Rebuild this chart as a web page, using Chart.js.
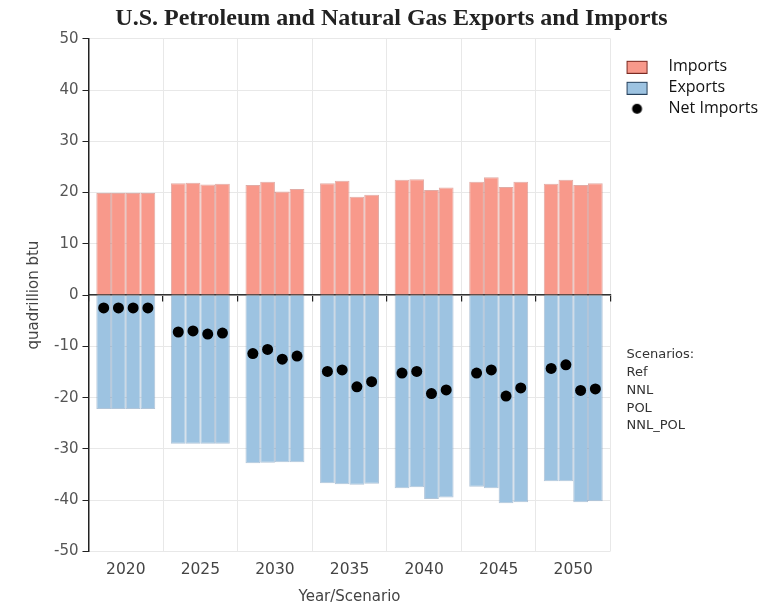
<!DOCTYPE html>
<html><head><meta charset="utf-8">
<script src="https://cdn.jsdelivr.net/npm/chart.js@4.4.1/dist/chart.umd.min.js"></script>
<style>html,body{margin:0;padding:0;background:#fff}#wrap{width:768px;height:614px;position:relative}</style>
</head><body><div id="wrap"><canvas id="c"></canvas></div>
<script>
const years = ['2020','2025','2030','2035','2040','2045','2050'];
const scenarios = ['Ref','NNL','POL','NNL_POL'];
const importsRef    = [19.9, 21.8, 21.5, 21.8, 22.5, 22.1, 21.7];
const importsNNL    = [19.9, 21.9, 22.1, 22.3, 22.6, 23.0, 22.5];
const importsPOL    = [19.9, 21.6, 20.2, 19.2, 20.5, 21.1, 21.5];
const importsNNLPOL = [19.9, 21.7, 20.7, 19.6, 21.0, 22.1, 21.8];
const exportsRef    = [-22.2, -29.0, -32.8, -36.7, -37.7, -37.4, -36.3];
const exportsNNL    = [-22.2, -29.0, -32.7, -36.9, -37.5, -37.7, -36.3];
const exportsPOL    = [-22.2, -29.0, -32.6, -37.0, -39.8, -40.6, -40.4];
const exportsNNLPOL = [-22.2, -29.0, -32.6, -36.8, -39.5, -40.4, -40.2];
const netRef    = [-2.5, -7.2, -11.4, -14.9, -15.2, -15.2, -14.3];
const netNNL    = [-2.5, -7.0, -10.6, -14.6, -14.9, -14.6, -13.6];
const netPOL    = [-2.5, -7.6, -12.5, -17.9, -19.2, -19.7, -18.6];
const netNNLPOL = [-2.5, -7.4, -11.9, -16.9, -18.5, -18.1, -18.3];
const yTicks = [50, 40, 30, 20, 10, 0, -10, -20, -30, -40, -50];
const seriesNames = ['Imports', 'Exports', 'Net Imports'];

const importsAll = [importsRef, importsNNL, importsPOL, importsNNLPOL];
const exportsAll = [exportsRef, exportsNNL, exportsPOL, exportsNNLPOL];
const netAll = [netRef, netNNL, netPOL, netNNLPOL];

const IMP = '#f8998b', IMP_B = 'rgba(205,115,105,0.6)';
const EXP = '#9dc3e1', EXP_B = 'rgba(100,140,180,0.5)';
const AXIS_FONT = 'DejaVu Sans';
const ICON_W = 45;

function legendIcon(kind) {
  const c = document.createElement('canvas');
  c.width = ICON_W; c.height = 14;
  const g = c.getContext('2d');
  if (kind === 'dot') {
    g.fillStyle = '#000';
    g.beginPath(); g.arc(21.5, 7, 5, 0, Math.PI * 2); g.fill();
  } else {
    g.fillStyle = kind === 'imp' ? IMP : EXP;
    g.fillRect(11.5, 1.5, 20, 12);
    g.strokeStyle = kind === 'imp' ? '#7a2a22' : '#27415c';
    g.lineWidth = 1;
    g.strokeRect(11.5, 1.5, 20, 12);
  }
  return c;
}
const icons = [legendIcon('imp'), legendIcon('exp'), legendIcon('dot')];

const datasets = [];
scenarios.forEach((s, j) => datasets.push({
  type: 'bar', label: seriesNames[0] + ' ' + s, data: importsAll[j], stack: s,
  backgroundColor: IMP, borderColor: IMP_B, borderWidth: 1, order: 2
}));
scenarios.forEach((s, j) => datasets.push({
  type: 'bar', label: seriesNames[1] + ' ' + s, data: exportsAll[j], stack: s,
  backgroundColor: EXP, borderColor: EXP_B, borderWidth: 1, order: 2
}));
scenarios.forEach((s, j) => datasets.push({
  type: 'line', label: seriesNames[2] + ' ' + s, data: netAll[j], stack: 'net_' + s,
  showLine: false, pointRadius: 5.5, pointHoverRadius: 5.5, pointBackgroundColor: '#000',
  pointBorderWidth: 0, borderColor: '#000', order: 0
}));

// place each net-import point on the bar of its scenario
const alignPoints = {
  id: 'alignPoints',
  afterDatasetsUpdate(chart) {
    scenarios.forEach((s, j) => {
      const barMeta = chart.getDatasetMeta(j);
      const ptMeta = chart.getDatasetMeta(8 + j);
      ptMeta.data.forEach((pt, i) => { if (barMeta.data[i]) pt.x = barMeta.data[i].x; });
    });
  }
};

const scenarioNote = {
  id: 'scenarioNote',
  afterDraw(chart) {
    const {ctx, chartArea} = chart;
    const lines = ['Scenarios:'].concat(scenarios);
    ctx.save();
    ctx.font = '13px "' + AXIS_FONT + '"';
    ctx.fillStyle = '#333';
    ctx.textAlign = 'left';
    ctx.textBaseline = 'middle';
    lines.forEach((t, k) => ctx.fillText(t, chartArea.right + 16, chartArea.top + 316 + k * 17.8));
    ctx.restore();
  }
};

new Chart(document.getElementById('c'), {
  type: 'bar',
  data: { labels: years, datasets },
  plugins: [alignPoints, scenarioNote],
  options: {
    responsive: true, maintainAspectRatio: false, animation: false,
    layout: { padding: { left: 15, right: 0, top: 0, bottom: 8 } },
    datasets: { bar: { categoryPercentage: 0.79, barPercentage: 1.0 } },
    plugins: {
      title: {
        display: true, text: 'U.S. Petroleum and Natural Gas Exports and Imports',
        font: { family: 'Liberation Serif', size: 24, weight: 'bold' }, color: '#222',
        padding: { top: 4, bottom: 6 }
      },
      legend: {
        position: 'right', align: 'start', fullSize: false,
        title: { display: true, text: ' ', font: { size: 10 }, padding: { top: 3, bottom: 0 } },
        labels: {
          usePointStyle: true, pointStyleWidth: ICON_W, padding: 5,
          font: { family: 'Open Sans', size: 16 }, color: '#111',
          generateLabels: () => seriesNames.map((n, k) => ({
            text: n, pointStyle: icons[k], fillStyle: '#000', strokeStyle: '#000',
            fontColor: '#111', lineWidth: 0, hidden: false, datasetIndex: k * 4
          }))
        },
        onClick: () => {}
      },
      tooltip: { enabled: false }
    },
    scales: {
      x: {
        stacked: true,
        grid: { color: '#e8e8e8', drawTicks: false, offset: true },
        border: { display: false },
        ticks: { color: '#444', font: { family: AXIS_FONT, size: 15.5 }, padding: 9 },
        title: { display: true, text: 'Year/Scenario', color: '#444',
          font: { family: AXIS_FONT, size: 15 }, padding: { top: 0, bottom: 0 } }
      },
      x2: {
        type: 'category', axis: 'x', position: { y: 0 }, offset: true, z: 1,
        grid: { drawOnChartArea: false, drawTicks: true, tickLength: 6, color: '#222', offset: true, lineWidth: 1.2 },
        border: { display: true, color: '#333', width: 1.5 },
        ticks: { display: false }
      },
      y: {
        stacked: true, min: -50, max: 50,
        afterBuildTicks: s => { s.ticks = yTicks.map(v => ({ value: v })); },
        grid: { color: '#e8e8e8', tickColor: '#222', tickLength: 6 },
        border: { display: true, color: '#222', width: 1.5 },
        ticks: { color: '#555', font: { family: AXIS_FONT, size: 15 }, padding: 4 },
        title: { display: true, text: 'quadrillion btu', color: '#444',
          font: { family: AXIS_FONT, size: 15 }, padding: { top: 10, bottom: 7 } }
      }
    }
  }
});
</script></body></html>
